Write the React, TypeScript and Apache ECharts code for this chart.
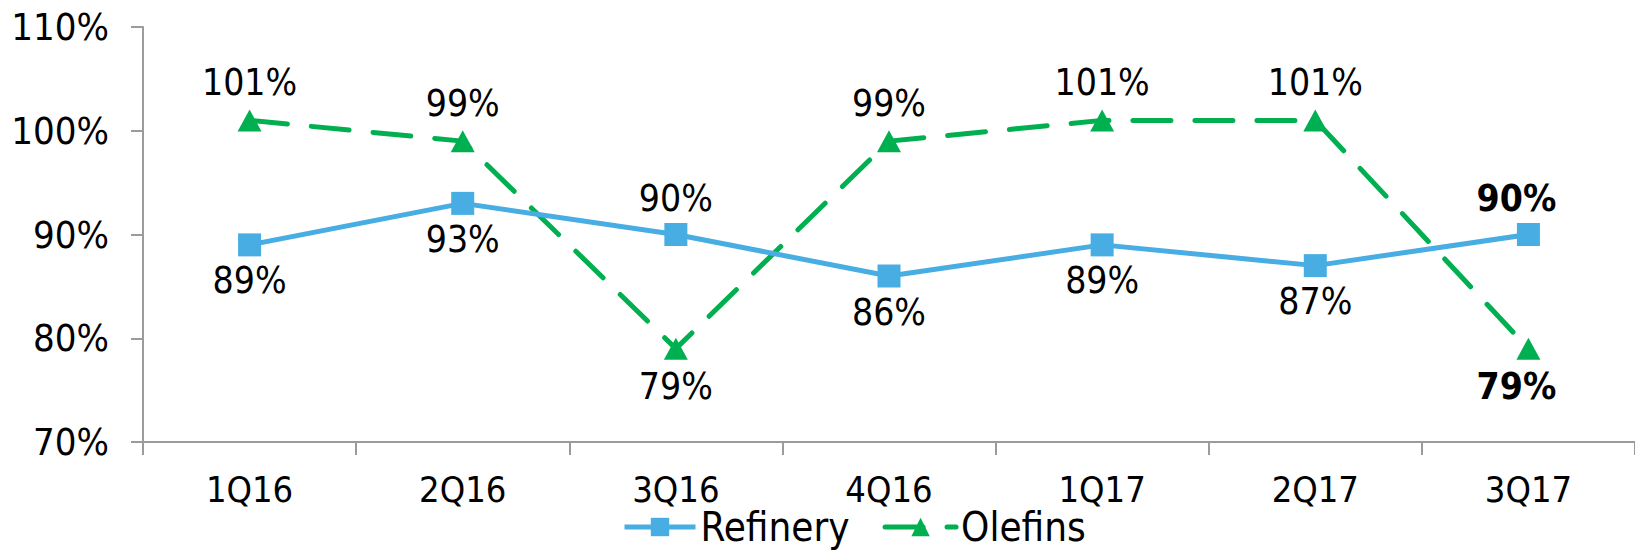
import React, { useEffect, useRef } from "react";
import * as echarts from "echarts";

const categories = ["1Q16", "2Q16", "3Q16", "4Q16", "1Q17", "2Q17", "3Q17"];
const refinery = [89, 93, 90, 86, 89, 87, 90];
const olefins = [101, 99, 79, 99, 101, 101, 79];
const refineryLabelPos = ["bottom", "bottom", "top", "bottom", "bottom", "bottom", "top"];
const olefinsLabelPos = ["top", "top", "bottom", "top", "top", "top", "bottom"];
const yMin = 70;
const yMax = 110;
const yStep = 10;

const FONT = "'DejaVu Sans Condensed', 'DejaVu Sans', sans-serif";

export default function App() {
  const ref = useRef<HTMLDivElement>(null);
  useEffect(() => {
    document.body.style.margin = "0";
    if (!ref.current) return;
    const chart = echarts.init(ref.current, undefined, { renderer: "svg" });
    const last = categories.length - 1;
    const mk = (vals: number[], pos: string[]) =>
      vals.map((v, i) => ({
        value: v,
        label: {
          position: pos[i],
          fontWeight: i === last ? "bold" : "normal",
          offset: i === last ? [-12, 0] : [0, 0],
        },
      }));
    chart.setOption({
      animation: false,
      textStyle: { fontFamily: FONT },
      grid: { left: 143, right: -9.5, top: 27, bottom: 108 },
      legend: {
        left: 617,
        top: 502,
        itemWidth: 71,
        itemHeight: 23,
        itemGap: 33,
        lineStyle: { width: 5 },
        textStyle: { fontSize: 40, lineHeight: 36, color: "#000", fontFamily: FONT },
        data: ["Refinery", "Olefins"],
      },
      xAxis: {
        type: "category",
        data: categories,
        boundaryGap: true,
        axisLine: { lineStyle: { color: "#9b9b9b", width: 2 } },
        axisTick: { show: true, length: 13, lineStyle: { color: "#9b9b9b", width: 2 } },
        axisLabel: { color: "#000", fontSize: 36, margin: 29, fontFamily: FONT },
        splitLine: { show: false },
      },
      yAxis: {
        type: "value",
        min: yMin,
        max: yMax,
        interval: yStep,
        axisLine: { show: true, lineStyle: { color: "#9b9b9b", width: 2 } },
        axisTick: { show: true, length: 12, lineStyle: { color: "#9b9b9b", width: 2 } },
        axisLabel: { color: "#000", fontSize: 38, margin: 34, formatter: "{value}%", fontFamily: FONT },
        splitLine: { show: false },
      },
      series: [
        {
          name: "Refinery",
          type: "line",
          data: mk(refinery, refineryLabelPos),
          symbol: "rect",
          symbolSize: 23,
          itemStyle: { color: "#48ADE3" },
          lineStyle: { color: "#48ADE3", width: 5 },
          label: {
            show: true,
            formatter: "{c}%",
            fontSize: 37,
            color: "#000",
            distance: 6,
            fontFamily: FONT,
          },
          z: 3,
        },
        {
          name: "Olefins",
          type: "line",
          data: mk(olefins, olefinsLabelPos),
          symbol: "triangle",
          symbolSize: [24, 22],
          itemStyle: { color: "#00B050" },
          lineStyle: { color: "#00B050", width: 5, type: [38, 24], cap: "round" },
          label: {
            show: true,
            formatter: "{c}%",
            fontSize: 37,
            color: "#000",
            distance: 8,
            fontFamily: FONT,
          },
          z: 2,
        },
      ],
    });
    return () => chart.dispose();
  }, []);
  return <div ref={ref} style={{ width: 1635, height: 550 }} />;
}
